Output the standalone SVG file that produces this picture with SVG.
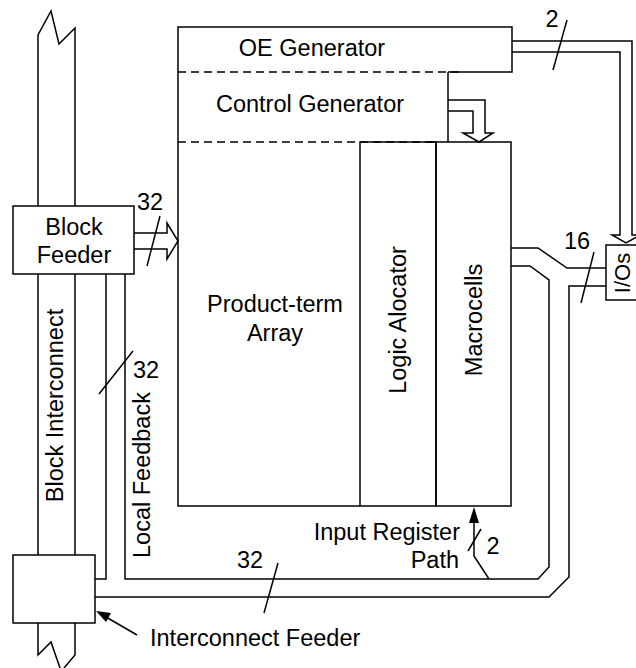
<svg xmlns="http://www.w3.org/2000/svg" width="636" height="668" viewBox="0 0 636 668">
<style>
.ln{fill:none;stroke:#000;stroke-width:1.5;stroke-linejoin:miter}
.bx{fill:#fff;stroke:#000;stroke-width:1.5}
.ds{fill:none;stroke:#000;stroke-width:1.5;stroke-dasharray:8,5}
.t{font-family:"Liberation Sans",Arial,sans-serif;font-size:23.5px;fill:#000}
.m{text-anchor:middle}
.fa{fill:#000;stroke:none}
</style>
<rect width="636" height="668" fill="#fff"/>
<g id="block-interconnect">
<polyline class="ln" points="38,555 38,35 51,11 59,44 75,28 75,555"/>
<polyline class="ln" points="38,623 38,655 51,642 60,668"/>
<polyline class="ln" points="75,623 75,655 64,668"/>
<text class="t m" transform="translate(63,405.5) rotate(-90)">Block Interconnect</text>
</g>
<g id="connectors">
<polyline class="ln" points="134,233 167,233 167,223 178,241 167,259 167,249 134,249"/>
<line class="ln" x1="160" y1="216" x2="147" y2="266"/>
<text class="t m" x="150" y="210">32</text>
<polyline class="ln" points="512,41 632,41 632,235 640,235 626,243 612,235 620,235 620,52 512,52"/>
<line class="ln" x1="567" y1="20" x2="553" y2="70"/>
<text class="t m" x="552" y="27">2</text>
<polyline class="ln" points="448,100 485,100 485,133 493,133 479,142 463,133 473,133 473,111 448,111"/>
<polyline class="ln" points="511,248 538,248 567,268 606,268"/>
<polyline class="ln" points="511,266 530,266 549,280 549,567 538,579 125,579 125,274"/>
<polyline class="ln" points="606,286 569,286 569,577 549,597 95,597"/>
<polyline class="ln" points="106,274 106,579 95,579"/>
<line class="ln" x1="594" y1="252" x2="581" y2="303"/>
<text class="t m" x="577" y="249">16</text>
<line class="ln" x1="133" y1="351" x2="99" y2="394"/>
<text class="t" x="133" y="378">32</text>
<text class="t" transform="translate(150,558) rotate(-90)">Local Feedback</text>
<line class="ln" x1="278" y1="563" x2="264" y2="613"/>
<text class="t m" x="250" y="568">32</text>
<polyline class="ln" points="489,579 474,556 474,520"/>
<polygon class="fa" points="474,507 469,523 479,523"/>
<line class="ln" x1="481" y1="529" x2="468" y2="551"/>
<text class="t m" x="493" y="554">2</text>
<text class="t" x="460" y="540" text-anchor="end">Input Register</text>
<text class="t" x="459" y="568" text-anchor="end">Path</text>
<line class="ln" x1="137" y1="635" x2="106" y2="617"/>
<polygon class="fa" points="96,611 111,613 106,622"/>
<text class="t" x="150" y="646">Interconnect Feeder</text>
</g>
<g id="block-feeder">
<rect class="bx" x="13" y="206" width="121" height="68"/>
<text class="t m" x="74" y="235">Block</text>
<text class="t m" x="74" y="263">Feeder</text>
</g>
<g id="interconnect-feeder">
<rect class="bx" x="13" y="555" width="82" height="68"/>
</g>
<g id="oe-generator">
<polyline class="ln" points="178,72 178,27 512,27 512,72 448,72"/>
<line class="ds" x1="178" y1="72" x2="460" y2="72"/>
<text class="t m" x="312" y="56">OE Generator</text>
</g>
<g id="control-generator">
<line class="ln" x1="448" y1="72" x2="448" y2="142"/>
<line class="ln" x1="178" y1="72" x2="178" y2="142"/>
<line class="ds" x1="178" y1="142" x2="432" y2="142"/>
<text class="t m" x="310" y="112">Control Generator</text>
</g>
<g id="product-term-array">
<polyline class="ln" points="178,142 178,506 360,506"/>
<text class="t m" x="275" y="312">Product-term</text>
<text class="t m" x="275" y="341">Array</text>
</g>
<g id="logic-allocator">
<rect class="ln" x="360" y="142" width="76" height="364"/>
<text class="t m" transform="translate(406,320) rotate(-90)">Logic Alocator</text>
</g>
<g id="macrocells">
<rect class="ln" x="436" y="142" width="75" height="364"/>
<line class="ln" x1="428" y1="142" x2="436" y2="142"/>
<text class="t m" transform="translate(482,320) rotate(-90)">Macrocells</text>
</g>
<g id="ios">
<rect class="bx" x="606" y="245" width="40" height="55"/>
<text class="t m" style="font-size:22px" transform="translate(630,273) rotate(-90)">I/Os</text>
</g>
</svg>
